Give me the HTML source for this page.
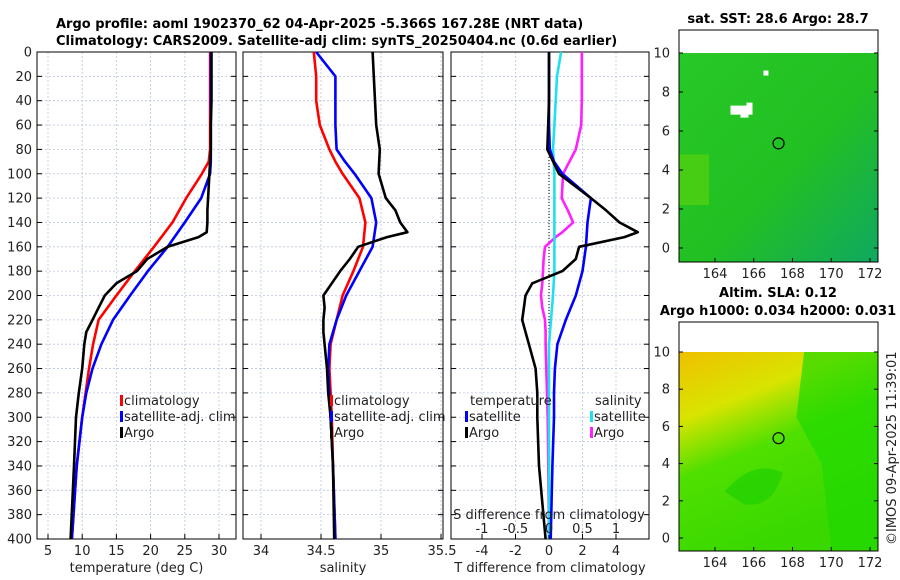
<!DOCTYPE html>
<html><head><meta charset="utf-8">
<style>
html,body{margin:0;padding:0;background:#fff;}
svg{display:block;font-family:"DejaVu Sans","Liberation Sans",sans-serif;}
.t{font-size:13px;fill:#222;}
.b{font-size:13px;font-weight:bold;fill:#000;}
</style></head>
<body>
<svg id="chart" width="900" height="580" viewBox="0 0 900 580" xmlns="http://www.w3.org/2000/svg">
<defs>
<linearGradient id="sstg" x1="0" y1="0" x2="1" y2="1">
<stop offset="0" stop-color="#28c828"/><stop offset="0.55" stop-color="#22c022"/><stop offset="1" stop-color="#10a860"/>
</linearGradient>
<linearGradient id="slag" x1="0" y1="0" x2="0.4" y2="1">
<stop offset="0" stop-color="#f0c000"/><stop offset="0.3" stop-color="#d8e400"/><stop offset="0.55" stop-color="#50e000"/><stop offset="1" stop-color="#38d800"/>
</linearGradient>
</defs>
<text class="b" x="56" y="28">Argo profile: aoml 1902370_62 04-Apr-2025 -5.366S 167.28E (NRT data)</text>
<text class="b" x="56" y="45">Climatology: CARS2009. Satellite-adj clim: synTS_20250404.nc (0.6d earlier)</text>
<g id="plots"></g>
</svg>
<script>
// ---- data ----
const depthClim = [0,20,40,60,80,90,100,120,140,160,180,200,220,240,260,280,300,340,400];
const tempClim  = [28.7,28.7,28.7,28.7,28.7,28.5,27.5,25.2,23.2,20.5,17.7,15,12.4,11.6,11,10.5,10,9.2,8.5];
const tempSat   = [28.8,28.8,28.8,28.8,28.8,28.8,28.7,27.4,25,22.5,19.6,17,14.5,12.8,11.5,10.6,10,9.2,8.5];
const salClim   = [34.44,34.46,34.46,34.49,34.57,34.62,34.68,34.82,34.87,34.85,34.77,34.68,34.63,34.58,34.57,34.58,34.59,34.6,34.62];
const salSat    = [34.46,34.62,34.62,34.62,34.63,34.7,34.78,34.92,34.96,34.93,34.82,34.71,34.63,34.57,34.56,34.57,34.58,34.6,34.62];
const tdiffSat  = [0,0,0,0,0.05,0.3,0.8,2.5,2.3,2.2,2.0,1.6,1.0,0.5,0.35,0.3,0.3,0.2,0.1];
const sdiffSat  = [0.18,0.12,0.1,0.08,0.06,0.07,0.08,0.08,0.08,0.08,0.08,0.06,0.03,0,0,0,0,0,0];
const depthArgo = [0,20,40,60,80,100,120,130,140,148,152,160,170,180,190,200,210,220,230,240,260,280,300,340,400];
const tempArgo  = [28.9,28.9,28.9,28.8,28.8,28.6,28.4,28.3,28.3,28.2,27,22.5,19.5,18,15,13.3,12.4,11.5,10.6,10.3,10,9.5,9.1,8.8,8.3];
const salArgo   = [34.93,34.94,34.95,34.96,34.99,34.98,35.04,35.12,35.16,35.22,35.05,34.81,34.74,34.66,34.59,34.52,34.53,34.52,34.52,34.53,34.55,34.56,34.58,34.6,34.61];
const tdiffArgo = [0,0,0,-0.05,-0.1,0.6,2.5,3.4,4.2,5.3,4.5,1.8,1.6,0.8,-1,-1.4,-1.5,-1.6,-1.4,-1.2,-0.8,-0.7,-0.7,-0.6,-0.2];
const sdiffArgo = [0.49,0.49,0.49,0.48,0.4,0.21,0.19,0.28,0.36,0.2,0.1,-0.06,-0.08,-0.09,-0.1,-0.12,-0.1,-0.06,-0.05,-0.05,-0.04,-0.03,-0.02,-0.01,0];
const depthTicks = [0,20,40,60,80,100,120,140,160,180,200,220,240,260,280,300,320,340,360,380,400];
const tempTicks = [5,10,15,20,25,30];
const salTicks = [34,34.5,35,35.5];
const tdiffTicks = [-4,-2,0,2,4];
const sdiffTicks = [-1,-0.5,0,0.5,1];
const lonTicks = [164,166,168,170,172];
const latTicks = [0,2,4,6,8,10];

const NS="http://www.w3.org/2000/svg";
const root=document.getElementById('plots');
function el(tag,attrs,parent){const e=document.createElementNS(NS,tag);for(const k in attrs)e.setAttribute(k,attrs[k]);(parent||root).appendChild(e);return e;}
const Y0=52,Y1=539;
const yD=d=>Y0+(d/400)*(Y1-Y0);
function lin(d0,d1,p0,p1){return v=>p0+(v-d0)/(d1-d0)*(p1-p0);}
const panels=[
 {x0:37,x1:236,xs:lin(5,30,48,219),ticks:tempTicks,label:'temperature (deg C)',name:'temperature'},
 {x0:243,x1:443,xs:lin(34,35,261,381),ticks:salTicks,label:'salinity',name:'salinity'},
 {x0:451,x1:649,xs:lin(-4,4,482,616),ticks:tdiffTicks,label:'T difference from climatology',name:'difference'}
];
const ss=lin(-1,1,482,616);
panels.forEach((p,i)=>{
  const g=el('g',{});
  
  
  depthTicks.forEach(d=>{const l=el('line',{x1:p.x0,x2:p.x1,y1:yD(d),y2:yD(d),stroke:'#b8c4e0','stroke-width':0.8,'stroke-dasharray':'2,2'},g);
    
    el('line',{x1:p.x0,x2:p.x0+5,y1:yD(d),y2:yD(d),stroke:'#000'},g);el('line',{x1:p.x1-5,x2:p.x1,y1:yD(d),y2:yD(d),stroke:'#000'},g);
    if(i===0){const t=el('text',{x:p.x0-5,y:yD(d)+4.5,'text-anchor':'end',class:'t'},g);t.textContent=d;}
  });
  p.ticks.forEach(v=>{const x=p.xs(v);el('line',{x1:x,x2:x,y1:Y0,y2:Y1,stroke:'#b8c4e0','stroke-width':0.8,'stroke-dasharray':'2,2'},g);
    el('line',{x1:x,x2:x,y1:Y1-5,y2:Y1,stroke:'#000'},g);
    if(i===1 && v===35.5) return;
    const t=el('text',{x:x,y:555,'text-anchor':'middle',class:'t'},g);t.textContent=String(v);
    });
  el('rect',{x:p.x0,y:Y0,width:p.x1-p.x0,height:Y1-Y0,fill:'none',stroke:'#000','stroke-width':1},g);
  const t=el('text',{x:(p.x0+p.x1)/2,y:572,'text-anchor':'middle',class:'t'},g);t.textContent=p.label;
  
});
{const t=el('text',{x:442,y:555,'text-anchor':'middle',class:'t'});t.textContent='35.5';}
function line(xs,ds,vals,col,name,w){
  const pts=vals.map((v,i)=>xs(v).toFixed(1)+','+yD(ds[i]).toFixed(1)).join(' ');
  const l=el('polyline',{points:pts,fill:'none',stroke:col,'stroke-width':w||2.6,'stroke-linejoin':'round'});
  
}
const P=panels;
line(P[0].xs,depthClim,tempClim,'#ff0000','temp-climatology-line');
line(P[0].xs,depthClim,tempSat,'#0000ff','temp-satellite-line');
line(P[0].xs,depthArgo,tempArgo,'#000','temp-argo-line');
line(P[1].xs,depthClim,salClim,'#ff0000','sal-climatology-line');
line(P[1].xs,depthClim,salSat,'#0000ff','sal-satellite-line');
line(P[1].xs,depthArgo,salArgo,'#000','sal-argo-line');
el('line',{x1:P[2].xs(0),x2:P[2].xs(0),y1:Y0,y2:Y1,stroke:'#000','stroke-dasharray':'1,2'});
line(ss,depthArgo,sdiffArgo,'#ff20ff','sdiff-argo-line');
line(ss,depthClim,sdiffSat,'#20e0f0','sdiff-satellite-line');
line(P[2].xs,depthClim,tdiffSat,'#0000ff','tdiff-satellite-line');
line(P[2].xs,depthArgo,tdiffArgo,'#000','tdiff-argo-line');
{const t=el('text',{x:549,y:519,'text-anchor':'middle',class:'t'});t.textContent='S difference from climatology';}
sdiffTicks.forEach(v=>{const t=el('text',{x:ss(v),y:533,'text-anchor':'middle',class:'t'});t.textContent=v;
  el('line',{x1:ss(v),x2:ss(v),y1:Y1,y2:Y1-4,stroke:'#000'});});
function leg(x,y,col,txt,name){el('rect',{x:x,y:y-10,width:3,height:11,fill:col});
  const t=el('text',{x:x+4,y:y,class:'t'});t.textContent=txt;}
leg(120,405,'#ff0000','climatology','legend-entry-climatology');
leg(120,421,'#0000ff','satellite-adj. clim','legend-entry-satellite');
leg(120,437,'#000','Argo','legend-entry-argo');
leg(330,405,'#ff0000','climatology','legend-entry-climatology-sal');
leg(330,421,'#0000ff','satellite-adj. clim','legend-entry-satellite-sal');
leg(330,437,'#000','Argo','legend-entry-argo-sal');
{const t=el('text',{x:470,y:405,class:'t'});t.textContent='temperature';}
{const t=el('text',{x:595,y:405,class:'t'});t.textContent='salinity';}
leg(465,421,'#0000ff','satellite','legend-entry-t-satellite');
leg(465,437,'#000','Argo','legend-entry-t-argo');
leg(590,421,'#20e0f0','satellite','legend-entry-s-satellite');
leg(590,437,'#ff20ff','Argo','legend-entry-s-argo');
function map(y0,y1,lat10,lat0,fill,name,extra){
  const g=el('g',{});
  const lx=lin(164,172,715,870), ly=lin(0,10,lat0,lat10);
  el('rect',{x:679,y:ly(10),width:199,height:y1-ly(10),fill:fill},g);
  if(extra)extra(g,lx,ly);
  el('rect',{x:679,y:y0,width:199,height:y1-y0,fill:'none',stroke:'#000'},g);
  lonTicks.forEach(v=>{el('line',{x1:lx(v),x2:lx(v),y1:y1,y2:y1-4,stroke:'#000'},g);
    const t=el('text',{x:lx(v),y:y1+16,'text-anchor':'middle',class:'t'},g);t.textContent=v;});
  latTicks.forEach(v=>{el('line',{x1:874,x2:878,y1:ly(v),y2:ly(v),stroke:'#000'},g);el('line',{x1:679,x2:683,y1:ly(v),y2:ly(v),stroke:'#000'},g);
    const t=el('text',{x:670,y:ly(v)+4.5,'text-anchor':'end',class:'t'},g);t.textContent=v;});
  el('circle',{cx:lx(167.28),cy:ly(5.366),r:5.5,fill:'none',stroke:'#000','stroke-width':1.2},g);
}
map(30,262,53,248,'url(#sstg)','sst-map',(g,lx,ly)=>{
  el('rect',{x:679,y:ly(4.8),width:30,height:ly(2.2)-ly(4.8),fill:'#50d010',opacity:0.8},g);
  el('path',{d:`M${lx(164.8)} ${ly(7.3)} h16 v-3 h6 v12 h-4 v3 h-8 v-3 h-10 z`,fill:'#fff'},g);
  el('rect',{x:lx(166.5),y:ly(9.1),width:5,height:5,fill:'#fff'},g);
});
map(322,551,352,538,'url(#slag)','sla-map',(g,lx,ly)=>{
  el('path',{d:`M${lx(168.6)} ${ly(10)} L${lx(172.4)} ${ly(10)} L${lx(172.4)} ${ly(-0.6)} L${lx(170)} ${ly(-0.6)} L${lx(169.5)} ${ly(4)} L${lx(168.2)} ${ly(6.5)} Z`,fill:'#20d800',opacity:0.7},g);
  el('path',{d:`M${lx(164.5)} ${ly(2.5)} Q${lx(166)} ${ly(4.3)} ${lx(167.5)} ${ly(3.5)} Q${lx(167)} ${ly(1.6)} ${lx(165.5)} ${ly(1.8)} Z`,fill:'#20d000',opacity:0.7},g);
});
const mt=[[778,23,'sat. SST: 28.6 Argo: 28.7','sst-map-title'],[778,297,'Altim. SLA: 0.12','sla-map-title'],[778,315,'Argo h1000: 0.034 h2000: 0.031','steric-height-title']];
mt.forEach(m=>{const t=el('text',{x:m[0],y:m[1],'text-anchor':'middle',class:'b'});t.textContent=m[2];});
{const t=el('text',{x:0,y:0,class:'t',transform:'translate(896,545) rotate(-90)'});t.textContent='©IMOS 09-Apr-2025 11:39:01';}
</script>
</body></html>
